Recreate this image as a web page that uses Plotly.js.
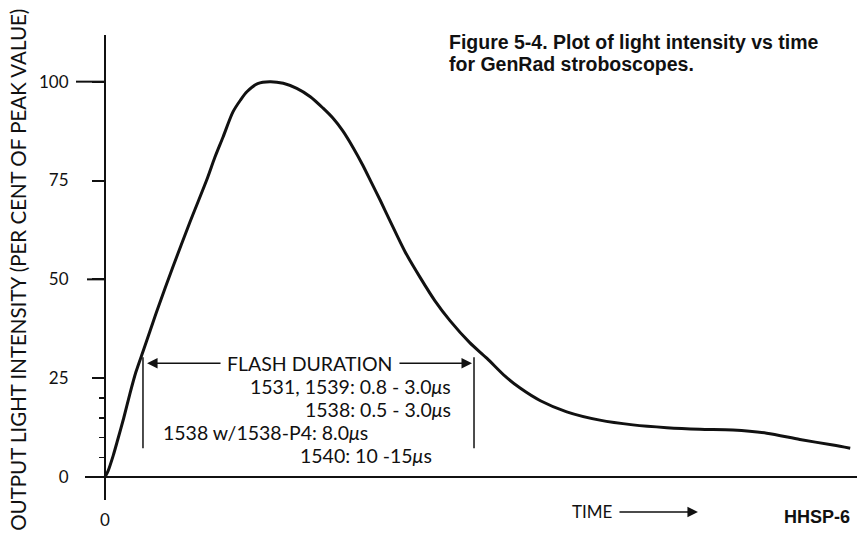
<!DOCTYPE html>
<html>
<head>
<meta charset="utf-8">
<script src="https://cdn.plot.ly/plotly-3.0.1.min.js"></script>
<style>html,body{margin:0;padding:0;background:#fff;}#chart{width:857px;height:535px;}</style>
</head>
<body>
<div id="chart"></div>
<script>
// Time in arbitrary units (axis has no scale), intensity in % of peak
const timeVals = [0, 0.4, 1.1, 1.7, 2.5, 3.3, 4.1, 5.1, 6.0, 6.9, 9.0, 11.3, 13.6, 14.6, 15.7, 17.0, 18.0, 18.9, 20.3, 21.9, 23.7, 25.5, 27.3, 29.0, 30.3, 31.6, 33.0, 34.3, 35.5, 36.6, 37.9, 39.9, 41.9, 43.9, 45.9, 48.5, 50.8, 53.2, 55.2, 57.9, 61.4, 65.8, 70.2, 74.7, 79.1, 83.5, 88.0, 92.4, 96.8, 99.1];
const intensity = [0, 1.5, 5.5, 9.5, 15, 21, 26.5, 32, 37, 42, 53, 64.5, 75.5, 80.8, 86, 92.3, 95.3, 97.5, 99.5, 100, 99.6, 98.3, 96.2, 93.3, 90.8, 87.6, 83.3, 78.8, 74.2, 70, 64.8, 57, 50.5, 44.5, 39.5, 34, 30, 25.5, 22.5, 19.3, 16.5, 14.4, 13.2, 12.5, 12.1, 11.9, 11.1, 9.5, 8.1, 7.3];

const yTickVals = [0, 25, 50, 75, 100];
const yMinorVals = [5, 10, 15, 20];
const longTickVals = [100, 50];
const longTickLens = [29, 18];
const xTickVals = [0];
const xTickText = ['0'];
const yRange = [-5.8, 111.8];
const xRange = [-2.66, 100];

// Flash-duration bracket (time units) and its text lines
const flashStart = 5.05;
const flashEnd = 49.07;
const flashLines = [
  '1531, 1539: 0.8 - 3.0<i>μ</i>s',
  '1538: 0.5 - 3.0<i>μ</i>s',
  '1538 w/1538-P4: 8.0<i>μ</i>s',
  '1540: 10 -15<i>μ</i>s'
];

const lf = {family: 'Lato, "DejaVu Sans", sans-serif', size: 17, color: '#111'};
const ff = {family: 'Lato, "DejaVu Sans", sans-serif', size: 19.5, color: '#111'};
const bf = {family: '"Liberation Sans", Arial, sans-serif', size: 19.5, color: '#111', weight: 'bold'};

const trace = {
  x: timeVals, y: intensity, type: 'scatter', mode: 'lines',
  line: {color: '#111', width: 3, shape: 'spline', smoothing: 0.8},
  hoverinfo: 'skip'
};

const plotL = 85, plotW = 772;
const annotations = [
  {xref: 'paper', yref: 'paper', x: -0.0868, y: 0.495, textangle: -90, showarrow: false,
   text: 'OUTPUT LIGHT INTENSITY (PER CENT OF PEAK VALUE)', font: {family: lf.family, size: 20.5, color: '#111'}, xanchor: 'center', yanchor: 'middle'},
  {xref: 'paper', yref: 'paper', x: 0.469, y: (500 - 42) / 465, showarrow: false, xanchor: 'left', yanchor: 'middle',
   text: '<b>Figure 5-4. Plot of light intensity vs time</b>', font: bf},
  {xref: 'paper', yref: 'paper', x: 0.469, y: (500 - 64) / 465, showarrow: false, xanchor: 'left', yanchor: 'middle',
   text: '<b>for GenRad stroboscopes.</b>', font: bf},
  {xref: 'paper', yref: 'paper', x: 0.657, y: -0.0258, showarrow: false, text: 'TIME', font: {family: lf.family, size: 17, color: '#111'}, xanchor: 'center', yanchor: 'middle'},
  {xref: 'paper', yref: 'paper', x: 0.794, y: -0.0258, showarrow: true, ax: -80, ay: 0, text: '',
   arrowhead: 2, arrowsize: 1.4, arrowwidth: 1.5, arrowcolor: '#111'},
  {xref: 'paper', yref: 'paper', x: 0.9935, y: -0.0366, showarrow: false, text: '<b>HHSP-6</b>', font: {family: bf.family, size: 18, color: '#111'}, xanchor: 'right', yanchor: 'middle'},
  // flash duration arrows
  {x: 5.59, y: 28.8, showarrow: true, ax: 75, ay: 0, text: '', arrowhead: 2, arrowsize: 1.4, arrowwidth: 1.5, arrowcolor: '#111'},
  {x: 48.8, y: 28.8, showarrow: true, ax: -74, ay: 0, text: '', arrowhead: 2, arrowsize: 1.4, arrowwidth: 1.5, arrowcolor: '#111'},
  {x: 27.2, y: 28.8, showarrow: false, text: 'FLASH DURATION', font: ff, xanchor: 'center', yanchor: 'middle'},
  {x: 46.3, y: 22.9, showarrow: false, text: flashLines[0], font: ff, xanchor: 'right', yanchor: 'middle'},
  {x: 46.3, y: 17.2, showarrow: false, text: flashLines[1], font: ff, xanchor: 'right', yanchor: 'middle'},
  {x: 7.5, y: 11.3, showarrow: false, text: flashLines[2], font: ff, xanchor: 'left', yanchor: 'middle'},
  {x: 43.8, y: 5.5, showarrow: false, text: flashLines[3], font: ff, xanchor: 'right', yanchor: 'middle'}
];

const shapes = [
  {type: 'line', x0: flashStart, x1: flashStart, y0: 7.3, y1: 30.3, line: {color: '#111', width: 1.5}},
  {type: 'line', x0: flashEnd, x1: flashEnd, y0: 7.3, y1: 30.3, line: {color: '#111', width: 1.5}}
];
// longer tick marks at 100 and 50 (paper refs so they are not clipped)
longTickVals.forEach((v, i) => {
  const yp = (v - yRange[0]) / (yRange[1] - yRange[0]);
  shapes.push({type: 'line', xref: 'paper', yref: 'paper',
    x0: (105 - longTickLens[i] - plotL) / plotW, x1: (105 - plotL) / plotW, y0: yp, y1: yp,
    line: {color: '#111', width: 2}});
});

const layout = {
  width: 857, height: 535,
  margin: {l: 85, r: 0, t: 35, b: 35},
  paper_bgcolor: '#fff', plot_bgcolor: '#fff',
  showlegend: false,
  xaxis: {
    range: xRange, anchor: 'free', position: 0.0495,
    showline: true, linecolor: '#111', linewidth: 2,
    showgrid: false, zeroline: false,
    tickmode: 'array', tickvals: xTickVals, ticktext: xTickText,
    ticks: '', ticklabelstandoff: 28, tickfont: lf
  },
  yaxis: {
    range: yRange, anchor: 'free', position: 0.0259,
    showline: true, linecolor: '#111', linewidth: 2,
    showgrid: false, zeroline: false,
    tickmode: 'array', tickvals: yTickVals,
    ticks: 'outside', ticklen: 12, tickwidth: 2, tickcolor: '#111',
    ticklabelstandoff: 20, tickfont: lf,
    minor: {tickvals: yMinorVals, ticks: 'outside', ticklen: 5, tickwidth: 1.5, tickcolor: '#111'}
  },
  annotations: annotations,
  shapes: shapes
};

Plotly.newPlot('chart', [trace], layout, {displayModeBar: false, staticPlot: true});
</script>
</body>
</html>
